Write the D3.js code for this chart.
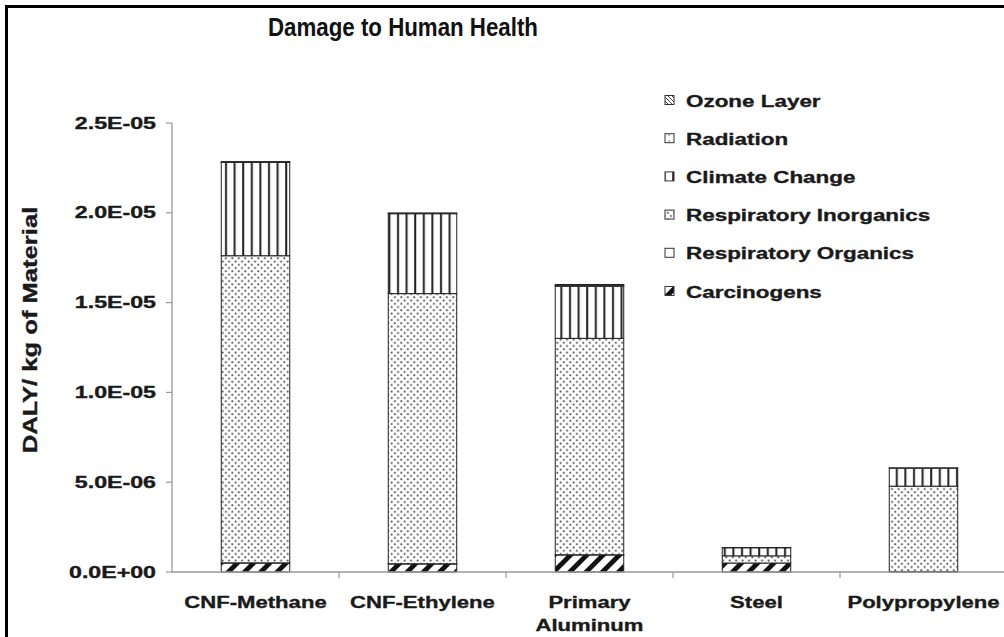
<!DOCTYPE html>
<html><head><meta charset="utf-8">
<script src="https://cdn.jsdelivr.net/npm/d3@7"></script>
<style>body{margin:0;background:#fff}svg{display:block}</style>
</head><body><svg id="c" width="1004" height="637"></svg>
<script>
const categories = ["CNF-Methane","CNF-Ethylene","Primary Aluminum","Steel","Polypropylene"];
const categoryLines = [["CNF-Methane"],["CNF-Ethylene"],["Primary","Aluminum"],["Steel"],["Polypropylene"]];
const seriesNames = ["Carcinogens","Respiratory Organics","Respiratory Inorganics","Climate Change","Radiation","Ozone Layer"];
// values in DALY per kg
const carcinogens   = [0.50e-6, 0.45e-6, 0.95e-6, 0.50e-6, 0.02e-6];
const respOrganics  = [0.01e-6, 0.01e-6, 0.01e-6, 0.00e-6, 0.01e-6];
const respInorganic = [17.10e-6, 15.04e-6, 12.05e-6, 0.40e-6, 4.75e-6];
const climateChange = [5.20e-6, 4.45e-6, 2.90e-6, 0.45e-6, 1.00e-6];
const radiation     = [0.02e-6, 0.02e-6, 0.05e-6, 0.01e-6, 0.02e-6];
const ozoneLayer    = [0.02e-6, 0.02e-6, 0.05e-6, 0.00e-6, 0.00e-6];
const yTicks = [0, 5e-6, 1e-5, 1.5e-5, 2e-5, 2.5e-5];
const yTickLabels = ["0.0E+00","5.0E-06","1.0E-05","1.5E-05","2.0E-05","2.5E-05"];
const legendOrder = ["Ozone Layer","Radiation","Climate Change","Respiratory Inorganics","Respiratory Organics","Carcinogens"];

const seriesValues = [carcinogens, respOrganics, respInorganic, climateChange, radiation, ozoneLayer];
const rows = categories.map((c,i)=>{const o={cat:c}; seriesNames.forEach((s,j)=>o[s]=seriesValues[j][i]); return o;});

const svg = d3.select("#c");
const defs = svg.append("defs");
// patterns
let p = defs.append("pattern").attr("id","p-carc").attr("patternUnits","userSpaceOnUse")
  .attr("width",11.5).attr("height",11.5).attr("patternTransform","rotate(45)");
p.append("rect").attr("width",11.5).attr("height",11.5).attr("fill","#fff");
p.append("rect").attr("x",0).attr("width",4.8).attr("height",11.5).attr("fill","#111");

p = defs.append("pattern").attr("id","p-ri").attr("patternUnits","userSpaceOnUse").attr("width",6.5).attr("height",6.5);
p.append("rect").attr("width",6.5).attr("height",6.5).attr("fill","#fff");
p.append("circle").attr("cx",1.6).attr("cy",1.6).attr("r",1.05).attr("fill","#555");
p.append("circle").attr("cx",4.85).attr("cy",4.85).attr("r",1.05).attr("fill","#555");

p = defs.append("pattern").attr("id","p-cc").attr("patternUnits","userSpaceOnUse").attr("width",8.6).attr("height",8.6).attr("x",222);
p.append("rect").attr("width",8.6).attr("height",8.6).attr("fill","#fff");
p.append("rect").attr("x",3).attr("width",2).attr("height",8.6).attr("fill","#222");

p = defs.append("pattern").attr("id","p-oz").attr("patternUnits","userSpaceOnUse").attr("width",4).attr("height",4);
p.append("rect").attr("width",4).attr("height",4).attr("fill","#fff");
p.append("path").attr("d","M0,0L4,4").attr("stroke","#444").attr("stroke-width",1);

p = defs.append("pattern").attr("id","p-rad").attr("patternUnits","userSpaceOnUse").attr("width",6).attr("height",6);
p.append("rect").attr("width",6).attr("height",6).attr("fill","#fff");
p.append("circle").attr("cx",3).attr("cy",3).attr("r",0.8).attr("fill","#666");

const fills = {"Carcinogens":"url(#p-carc)","Respiratory Organics":"#fff","Respiratory Inorganics":"url(#p-ri)",
  "Climate Change":"url(#p-cc)","Radiation":"url(#p-rad)","Ozone Layer":"url(#p-oz)"};

// frame (top and left visible; right/bottom beyond the picture)
svg.append("rect").attr("x",6.5).attr("y",6.5).attr("width",1100).attr("height",700)
  .attr("fill","none").attr("stroke","#000").attr("stroke-width",3);

const y = d3.scaleLinear().domain([0,2.5e-5]).range([572,123]);
const x = d3.scaleBand().domain(categories).range([172,1007]).paddingInner(0.59).paddingOuter(0.295);

// stacked bars
const stack = d3.stack().keys(seriesNames)(rows);
const g = svg.append("g");
stack.forEach(layer=>{
  g.append("g").selectAll("rect").data(layer).join("rect")
    .attr("x",d=>x(d.data.cat)).attr("width",x.bandwidth())
    .attr("y",d=>y(d[1])).attr("height",d=>Math.max(0,y(d[0])-y(d[1])))
    .attr("fill",fills[layer.key]).attr("stroke","#222").attr("stroke-width",1);
});

const font = "Liberation Sans, Arial, sans-serif";
function heavy(t){ return t.attr("font-family",font).attr("font-weight","bold").attr("fill","#1a1a1a")
  .attr("stroke","#1a1a1a").attr("stroke-width",0.35); }

// axes
const axisColor = "#999";
svg.append("line").attr("x1",172).attr("x2",172).attr("y1",y(2.5e-5)).attr("y2",y(0)).attr("stroke",axisColor).attr("stroke-width",1.3);
svg.append("line").attr("x1",172).attr("x2",1004).attr("y1",y(0)).attr("y2",y(0)).attr("stroke",axisColor).attr("stroke-width",1.3);
yTicks.forEach((t,i)=>{
  svg.append("line").attr("x1",166).attr("x2",172).attr("y1",y(t)).attr("y2",y(t)).attr("stroke",axisColor).attr("stroke-width",1.2);
  heavy(svg.append("text").attr("transform",`translate(156,${y(t)+5.5}) scale(1.45,1)`)
    .attr("text-anchor","end").attr("font-size",16)).text(yTickLabels[i]);
});
const step = x.step();
categories.forEach(c=>{
  const b = x(c)+x.bandwidth()+step*x.paddingInner()/2;
  svg.append("line").attr("x1",b).attr("x2",b).attr("y1",y(0)).attr("y2",y(0)+6).attr("stroke",axisColor).attr("stroke-width",1.2);
});
categories.forEach((c,i)=>{
  const cx = x(c)+x.bandwidth()/2;
  categoryLines[i].forEach((ln,k)=>{
    heavy(svg.append("text").attr("transform",`translate(${cx},${608+k*23}) scale(1.3,1)`)
      .attr("text-anchor","middle").attr("font-size",17)).text(ln);
  });
});

// y axis title
heavy(svg.append("text").attr("transform","translate(37,330) rotate(-90) scale(1.28,1)")
  .attr("text-anchor","middle").attr("font-size",20)).text("DALY/ kg of Material");

// title
svg.append("text").attr("x",403).attr("y",36).attr("text-anchor","middle")
  .attr("font-family","Liberation Sans Narrow, Arial Narrow, sans-serif").attr("font-weight","bold")
  .attr("font-size",25).attr("textLength",270).attr("lengthAdjust","spacingAndGlyphs").attr("fill","#111")
  .text("Damage to Human Health");

// legend
legendOrder.forEach((s,i)=>{
  const ly = 100 + i*38.2;
  svg.append("rect").attr("x",665).attr("y",ly-4.5).attr("width",9).attr("height",9)
    .attr("fill",fills[s]).attr("stroke","#333").attr("stroke-width",1);
  heavy(svg.append("text").attr("transform",`translate(686,${ly+6.5}) scale(1.32,1)`)
    .attr("font-size",17)).text(s);
});
</script></body></html>
